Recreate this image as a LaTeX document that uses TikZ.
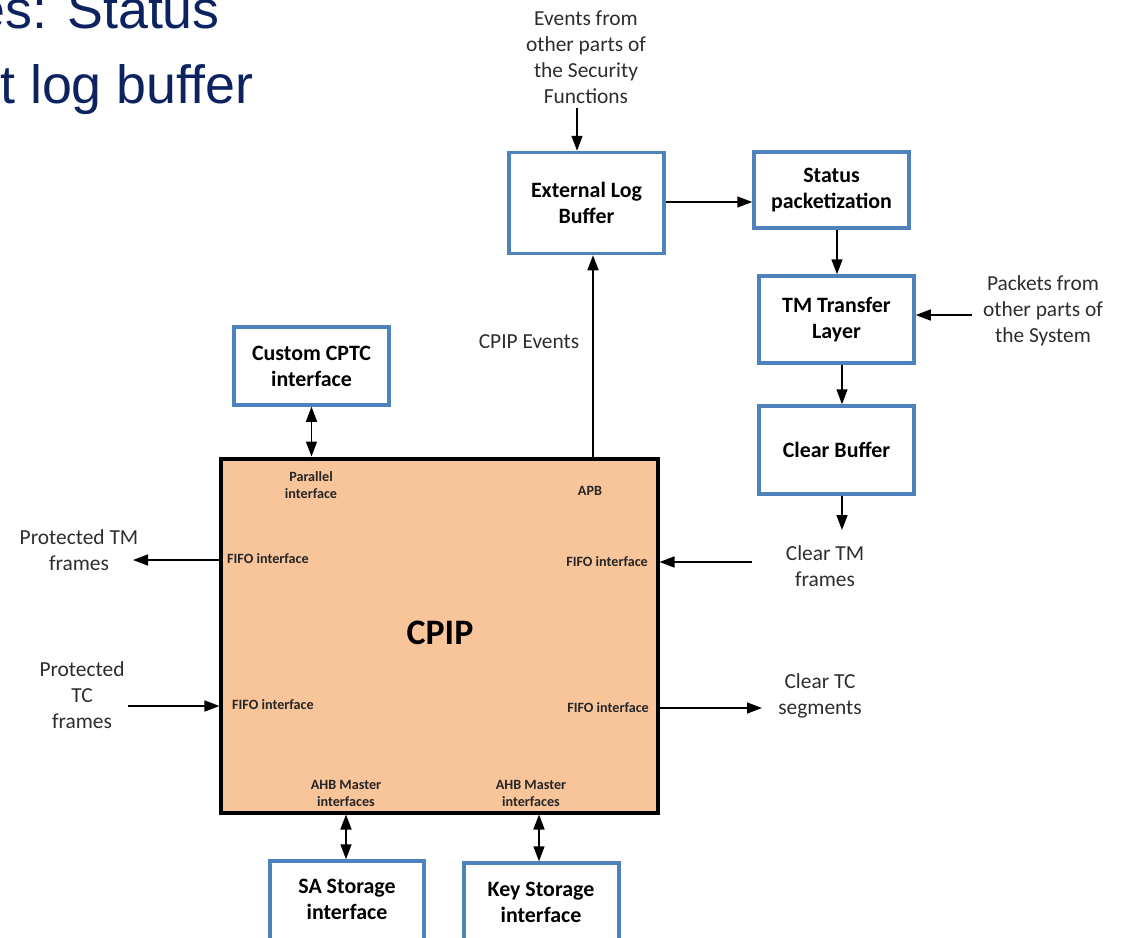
\documentclass[tikz,border=0pt]{standalone}
\usepackage{fontspec}
\setmainfont{Carlito}
\newfontfamily\titlefont{Liberation Sans}
\usetikzlibrary{arrows.meta}
\definecolor{boxblue}{RGB}{79,129,189}
\definecolor{cpipfill}{RGB}{248,196,154}
\definecolor{titleblue}{RGB}{12,35,96}
\definecolor{labelgray}{RGB}{45,45,45}
\tikzset{
  bluebox/.style={draw=boxblue, line width=3.5bp, fill=white, align=center,
    font=\fontsize{22}{26}\selectfont\bfseries, text=black, inner sep=0pt},
  boxtext/.style={align=center, font=\fontsize{22}{26}\selectfont\bfseries, text=black, inner sep=0pt},
  plainlabel/.style={align=center, font=\fontsize{21.5}{26}\selectfont, text=labelgray, inner sep=0pt},
  portlabel/.style={align=center, font=\fontsize{14.2}{17}\selectfont\bfseries, text=black!85, inner sep=0pt},
  conn/.style={line width=1.5bp, -{Triangle[length=15bp,width=11bp]}},
  biconn/.style={line width=1.5bp, {Triangle[length=15bp,width=11bp]}-{Triangle[length=15bp,width=11bp]}},
  titletext/.style={font=\titlefont\fontsize{54}{75}\selectfont, text=titleblue, inner sep=0pt}
}
\begin{document}
\begin{tikzpicture}[x=1bp, y=-1bp]
\useasboundingbox (0,0) rectangle (1123,938);

% heading fragments at the top left
\node[titletext, anchor=base east] (t1) at (220,28) {es: Status};
\node[titletext, anchor=base west] (t2) at (0,103) {t log buffer};

% main core
\node[draw=black, line width=4bp, fill=cpipfill, minimum width=436bp, minimum height=354bp, inner sep=0pt]
  (cpip) at (439.5,635.5) {};
\node[font=\fontsize{36}{40}\selectfont\bfseries] (cpiplabel) at (440,633) {CPIP};

% port labels inside the core
\node[portlabel] (ppar) at (311,485) {Parallel\\interface};
\node[portlabel] (papb) at (590,491) {APB};
\node[portlabel, anchor=west] (pfifo1) at (227,559) {FIFO interface};
\node[portlabel, anchor=east] (pfifo2) at (648,562) {FIFO interface};
\node[portlabel, anchor=west] (pfifo3) at (232,705) {FIFO interface};
\node[portlabel, anchor=east] (pfifo4) at (649,708) {FIFO interface};
\node[portlabel] (pahb1) at (346,793) {AHB Master\\interfaces};
\node[portlabel] (pahb2) at (531,793) {AHB Master\\interfaces};

% surrounding blocks
\node[bluebox, minimum width=155bp, minimum height=101bp] (elb) at (586.5,203) {External Log\\Buffer};
\node[bluebox, minimum width=155bp, minimum height=76bp] (stat) at (831.5,190) {Status\\packetization};
\node[bluebox, minimum width=155bp, minimum height=87bp] (tmtl) at (836.5,319.5) {TM Transfer\\Layer};
\node[bluebox, minimum width=155bp, minimum height=88bp] (cbuf) at (836.5,450) {Clear Buffer};
\node[bluebox, minimum width=155bp, minimum height=78bp] (cptc) at (311.5,366) {Custom CPTC\\interface};
\node[bluebox, minimum width=154bp, minimum height=100bp] (sa) at (347,911) {};
\node[boxtext] (salabel) at (347,899) {SA Storage\\interface};
\node[bluebox, minimum width=155bp, minimum height=100bp] (key) at (541.5,913) {};
\node[boxtext] (keylabel) at (541,902) {Key Storage\\interface};

% free text labels
\node[plainlabel] (evt) at (586,57) {Events from\\other parts of\\the Security\\Functions};
\node[plainlabel] (pkt) at (1043,311) {Packets from\\other parts of\\the System};
\node[plainlabel] (ctm) at (825,566) {Clear TM\\frames};
\node[plainlabel] (ctc) at (820,696) {Clear TC\\segments};
\node[plainlabel] (ptm) at (79,550) {Protected TM\\frames};
\node[plainlabel] (ptc) at (82,695) {Protected\\TC\\frames};
\node[plainlabel] (cev) at (529,342) {CPIP Events};

% anchor points for connectors
\coordinate (evtend) at (577,108);
\coordinate (pktend) at (972,315);
\coordinate (ctmend) at (842,530);
\coordinate (ctmin) at (752,562);
\coordinate (ptmend) at (133,560);
\coordinate (ptcend) at (128,706);
\coordinate (ctcend) at (762,708);

% connectors
\draw[conn] (evtend) -- (evtend |- elb.north);
\draw[conn] (elb.east |- 0,202) -- (stat.west |- 0,202);
\draw[conn] (stat.south -| 837,0) -- (tmtl.north -| 837,0);
\draw[conn] (pktend) -- (tmtl.east |- pktend);
\draw[conn] (tmtl.south -| ctmend) -- (cbuf.north -| ctmend);
\draw[conn] (cbuf.south -| ctmend) -- (ctmend);
\draw[conn] (ctmin) -- (cpip.east |- ctmin);
\draw[conn] (cpip.north -| 593,0) -- (elb.south -| 593,0);
\draw[biconn] (cptc.south) -- (cpip.north -| cptc.south);
\draw[conn] (cpip.west |- ptmend) -- (ptmend);
\draw[conn] (ptcend) -- (cpip.west |- ptcend);
\draw[conn] (cpip.east |- ctcend) -- (ctcend);
\draw[biconn] (cpip.south -| 346,0) -- (sa.north -| 346,0);
\draw[biconn] (cpip.south -| 539,0) -- (key.north -| 539,0);
\end{tikzpicture}
\end{document}
